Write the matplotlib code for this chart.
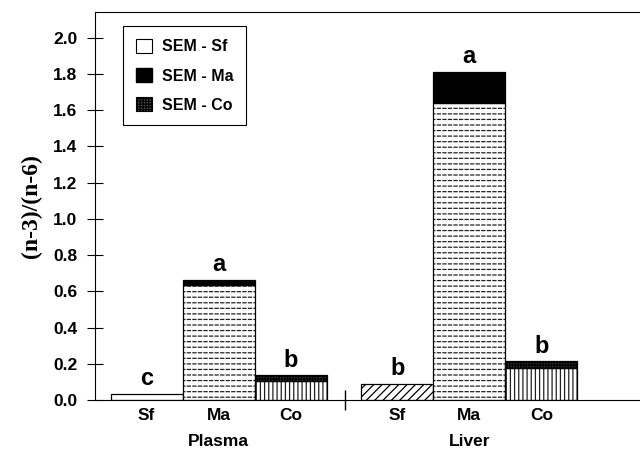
import numpy as np
import matplotlib.pyplot as plt
from matplotlib.patches import Patch

plt.rcParams['font.family'] = ['Liberation Sans', 'DejaVu Sans']
plt.rcParams['font.weight'] = 'bold'
plt.rcParams['hatch.linewidth'] = 0.9

# data
tissues = ["Plasma", "Liver"]
diets = ["Sf", "Ma", "Co"]
plasma_mean = [0.035, 0.635, 0.107]
plasma_sem = [0.0, 0.03, 0.03]
liver_mean = [0.09, 1.64, 0.178]
liver_sem = [0.0, 0.17, 0.035]
plasma_letters = ["c", "a", "b"]
liver_letters = ["b", "a", "b"]

plasma_x = np.arange(3)
liver_x = np.arange(3) + 3.48

fig = plt.figure(figsize=(6.4, 4.49), dpi=100)
ax = fig.add_axes([0.148, 0.109, 0.852, 0.864])

mean_hatch = {"Plasma": ["", "---", "||||"], "Liver": ["////", "---", "||||"]}
hatch_col = ["black", "#222222", "#222222"]
sem_colors = ["white", "black", "#333333"]
sem_hatch = ["", "", "++++++"]

for name, xs, means, sems, letters in [("Plasma", plasma_x, plasma_mean, plasma_sem, plasma_letters),
                                       ("Liver", liver_x, liver_mean, liver_sem, liver_letters)]:
    for i in range(3):
        ax.bar(xs[i], means[i], width=1.0, color="white", edgecolor=hatch_col[i],
               hatch=mean_hatch[name][i], linewidth=0)
        if diets[i] == "Ma":
            # break the horizontal lines into dashes
            ax.bar(xs[i], means[i], width=1.0, fill=False, edgecolor="white",
                   hatch="|||", linewidth=0)
        ax.bar(xs[i], means[i], width=1.0, fill=False, edgecolor="black", linewidth=0.9)
        if sems[i] > 0:
            ax.bar(xs[i], sems[i], bottom=means[i], width=1.0, color=sem_colors[i],
                   edgecolor="black", hatch=sem_hatch[i], linewidth=0.9)
        ax.text(xs[i], means[i] + sems[i] + 0.02, letters[i], ha="center", va="bottom",
                fontsize=17, fontweight="bold")

ax.set_xlim(-0.72, 6.85)
ax.set_ylim(0, 2.14)
ax.set_yticks(np.arange(0, 2.01, 0.2))
ax.set_yticklabels(["%.1f" % v for v in np.arange(0, 2.01, 0.2)], fontsize=12.5, fontweight="bold")
ax.tick_params(axis="y", direction="inout", length=11, width=0.8, pad=7)

ax.set_xticks(list(plasma_x) + list(liver_x))
ax.set_xticklabels(diets * 2, fontsize=12.5, fontweight="bold")
ax.tick_params(axis="x", which="major", length=0, pad=6)
ax.set_xticks([2.76], minor=True)
ax.tick_params(axis="x", which="minor", direction="inout", length=14, width=1.0)

ax.spines["right"].set_visible(False)
for s in ["left", "top", "bottom"]:
    ax.spines[s].set_linewidth(0.8)

ax.text(np.mean(plasma_x), -0.23, tissues[0], ha="center", va="center", fontsize=12.5,
        fontweight="bold", clip_on=False)
ax.text(np.mean(liver_x), -0.23, tissues[1], ha="center", va="center", fontsize=12.5,
        fontweight="bold", clip_on=False)

ax.set_ylabel("(n-3)/(n-6)", fontsize=17, fontweight="bold",
              family=["Liberation Serif", "DejaVu Serif"], labelpad=8)

handles = [Patch(facecolor="white", edgecolor="black", linewidth=0.8),
           Patch(facecolor="black", edgecolor="black"),
           Patch(facecolor="#555555", edgecolor="black", hatch="++++++", linewidth=0.8)]
leg = ax.legend(handles, ["SEM - Sf", "SEM - Ma", "SEM - Co"], loc="upper left",
                bbox_to_anchor=(0.038, 0.985), fancybox=False, edgecolor="black",
                framealpha=1, prop={"weight": "bold", "size": 11.5},
                handlelength=1.0, handleheight=1.0, labelspacing=0.85,
                borderpad=0.8, handletextpad=0.6)
leg.get_frame().set_linewidth(0.8)

fig.savefig("out.png", dpi=100)
